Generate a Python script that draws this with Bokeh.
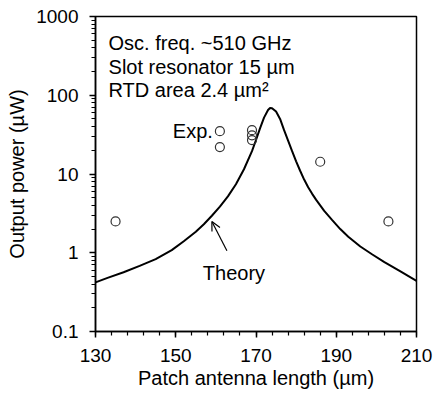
from bokeh.plotting import figure
from bokeh.models import FixedTicker, CustomJSTickFormatter, Label, Arrow, OpenHead
from bokeh.embed import file_html
from bokeh.resources import INLINE

# Theory curve
theory_x = [130, 133, 137, 141, 145, 149, 152, 155, 157, 159, 161, 163, 165, 167, 169, 170, 171, 172, 173,
            173.5, 174, 175, 176, 177, 178, 179, 180, 181, 182, 183, 184, 185, 186, 187, 189, 191, 193,
            196, 199, 202, 206, 210]
theory_y = [0.42, 0.48, 0.565, 0.68, 0.83, 1.08, 1.4, 1.85, 2.3, 2.95, 3.85, 5.2, 7.4, 11.5, 19.5, 27, 38, 52, 65,
            69, 68.5, 62, 50, 36, 26.5, 19.5, 14.5, 11, 8.5, 6.8, 5.6, 4.7, 4.0, 3.4, 2.6, 2.0, 1.6,
            1.2, 0.95, 0.76, 0.58, 0.44]

# Experimental points
exp_x = [135, 161, 161, 169, 169, 169, 186, 203]
exp_y = [2.5, 35, 22, 36, 31, 27, 14.3, 2.5]

x_ticks = [130, 150, 170, 190, 210]
x_minor = list(range(130, 211, 4))
y_ticks = [0.1, 1, 10, 100, 1000]
y_minor = [m * d for d in [0.1, 1, 10, 100] for m in range(2, 10)]

annot_lines = ["Osc. freq. ~510 GHz", "Slot resonator 15 \u00b5m", "RTD area 2.4 \u00b5m\u00b2"]

FONT = "Liberation Sans"

p = figure(width=434, height=399, output_backend="svg", toolbar_location=None,
           x_range=(130, 210), y_range=(0.1, 1000), y_axis_type="log",
           min_border_left=95, min_border_right=18, min_border_top=16, min_border_bottom=68)
p.grid.visible = False
p.outline_line_color = "black"
p.outline_line_width = 1.5
p.background_fill_color = "white"
p.border_fill_color = "white"

p.xaxis.ticker = FixedTicker(ticks=x_ticks, minor_ticks=x_minor)
p.yaxis.ticker = FixedTicker(ticks=y_ticks, minor_ticks=y_minor)
p.yaxis.formatter = CustomJSTickFormatter(code="return String(tick)")

for ax in [p.xaxis[0], p.yaxis[0]]:
    ax.axis_line_color = "black"
    ax.axis_line_width = 1.5
    ax.major_tick_line_color = "black"
    ax.minor_tick_line_color = "black"
    ax.major_tick_line_width = 1.5
    ax.minor_tick_line_width = 1.2
    ax.major_tick_in = 0
    ax.minor_tick_in = 0
    ax.major_tick_out = 6
    ax.minor_tick_out = 4
    ax.major_label_text_font = FONT
    ax.major_label_text_font_size = "19px"
    ax.major_label_text_color = "black"
    ax.axis_label_text_font = FONT
    ax.axis_label_text_font_size = "20px"
    ax.axis_label_text_font_style = "normal"
    ax.axis_label_text_color = "black"

p.xaxis.axis_label = "Patch antenna length (\u00b5m)"
p.yaxis.axis_label = "Output power (\u00b5W)"
p.xaxis.major_label_standoff = 11
p.xaxis.axis_label_standoff = 2
p.yaxis.major_label_standoff = 11
p.yaxis.axis_label_standoff = 5

p.line(theory_x, theory_y, line_color="black", line_width=2)
p.scatter(exp_x, exp_y, marker="circle", size=9, fill_alpha=0,
          line_color="#333333", line_width=1.2)

ys = [467, 231, 117]
for txt, yv in zip(annot_lines, ys):
    p.add_layout(Label(x=133.25, y=yv, text=txt, text_font=FONT, text_font_size="20px",
                       text_color="black", text_baseline="alphabetic", text_align="left"))

p.add_layout(Label(x=159.25, y=35, text="Exp.", text_font=FONT, text_font_size="20px",
                   text_color="black", text_baseline="middle", text_align="right"))
p.add_layout(Label(x=156.75, y=0.556, text="Theory", text_font=FONT, text_font_size="20px",
                   text_color="black", text_baseline="alphabetic", text_align="left"))
p.add_layout(Arrow(end=OpenHead(size=9, line_width=1.2, line_color="black"),
                   x_start=162.75, y_start=1.06, x_end=159, y_end=2.49,
                   line_color="black", line_width=1.2))

open("out.html", "w").write(file_html(p, INLINE))
